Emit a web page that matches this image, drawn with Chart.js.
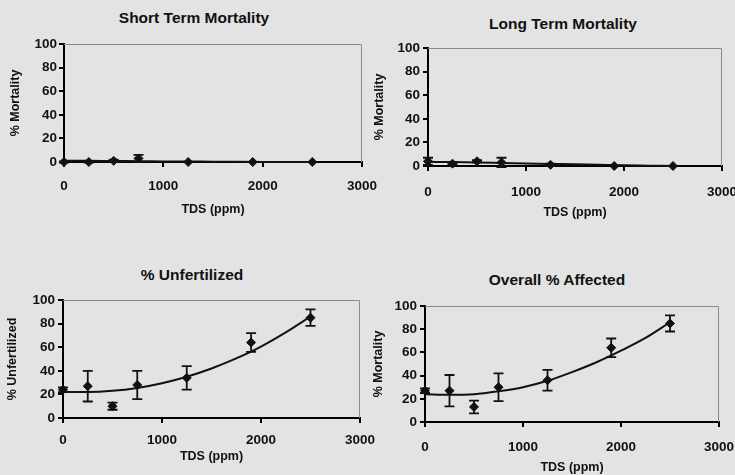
<!DOCTYPE html>
<html>
<head>
<meta charset="utf-8">
<script src="https://cdn.jsdelivr.net/npm/chart.js@4.4.0/dist/chart.umd.min.js"></script>
<style>
  body { margin: 0; background: #e3e3e3; width: 735px; height: 475px; overflow: hidden; position: relative; font-family: "Liberation Sans", Arial, sans-serif; }
  .box { position: absolute; }
  .ttl { position: absolute; font-weight: bold; font-size: 15.5px; transform: translateX(-50%); white-space: nowrap; color: #111; }
</style>
</head>
<body>
<div class="ttl" style="left:194px;top:9px">Short Term Mortality</div>
<div class="ttl" style="left:563px;top:15px">Long Term Mortality</div>
<div class="ttl" style="left:192px;top:266px">% Unfertilized</div>
<div class="ttl" style="left:557px;top:271px">Overall % Affected</div>

<div class="box" style="left:0;top:0;width:390px;height:232px"><canvas id="c1"></canvas></div>
<div class="box" style="left:368px;top:0;width:367px;height:235px"><canvas id="c2"></canvas></div>
<div class="box" style="left:0;top:240px;width:390px;height:235px"><canvas id="c3"></canvas></div>
<div class="box" style="left:368px;top:240px;width:367px;height:235px"><canvas id="c4"></canvas></div>

<script>
// TDS levels (ppm) used for the points
const tds = [0, 250, 500, 750, 1250, 1900, 2500];

const shortMort = [0, 0, 1, 3, 0, 0, 0];
const shortErr = [0.5, 0.5, 1, 3, 0, 0, 0];
const longMort = [4, 2, 4, 3, 1, 0, 0];
const longErr = [3, 1, 1, 4, 1, 0, 0];
const unfert = [24, 27, 10, 28, 34, 64, 85];
const unfertErr = [2, 13, 3, 12, 10, 8, 7];
const affected = [27, 27, 13, 30, 36, 64, 85];
const affectedErr = [2, 13.5, 5.5, 12, 9, 8, 7];

// trend lines
const trendX = [0, 250, 500, 750, 1000, 1250, 1500, 1750, 2000, 2250, 2500];
const shortTrend = [1, 1, 0.8, 0.7, 0.5, 0.4, 0.3, 0.2, 0.1, 0, 0];
const longTrend = [3.5, 3.3, 3, 2.6, 2.2, 1.8, 1.4, 1, 0.6, 0.3, 0];
const unfertTrend = [22, 22, 23, 25.5, 29.5, 35, 42, 50.5, 60.5, 72.5, 86];
const affectedTrend = [24, 23.5, 24, 26.5, 30, 35.5, 43, 51.5, 61.5, 72.5, 86];

const xTicks = [0, 1000, 2000, 3000];
const yTicks = [0, 20, 40, 60, 80, 100];

const ink = '#111';

const errorBars = {
  id: 'errorBars',
  afterDatasetsDraw(chart) {
    const ds = chart.data.datasets[0];
    if (!ds.errors) return;
    const { ctx, scales: { x, y } } = chart;
    ctx.save();
    ctx.strokeStyle = ink;
    ctx.lineWidth = 1.8;
    ds.data.forEach((p, i) => {
      const e = ds.errors[i];
      if (!e) return;
      const px = x.getPixelForValue(p.x);
      const top = y.getPixelForValue(p.y + e);
      const bot = y.getPixelForValue(p.y - e);
      ctx.beginPath();
      ctx.moveTo(px, top); ctx.lineTo(px, bot);
      ctx.moveTo(px - 5, top); ctx.lineTo(px + 5, top);
      ctx.moveTo(px - 5, bot); ctx.lineTo(px + 5, bot);
      ctx.stroke();
    });
    ctx.restore();
  }
};

// thin grey border on top and right of the plot area
const frame = {
  id: 'frame',
  beforeDatasetsDraw(chart) {
    const { ctx, chartArea: a } = chart;
    ctx.save();
    ctx.strokeStyle = '#8c8c8c';
    ctx.lineWidth = 1;
    ctx.beginPath();
    ctx.moveTo(a.left, a.top + 0.5);
    ctx.lineTo(a.right - 0.5, a.top + 0.5);
    ctx.lineTo(a.right - 0.5, a.bottom);
    ctx.stroke();
    ctx.restore();
  }
};

const tickFont = { family: 'Liberation Sans', size: 13.5, weight: 'bold' };
const axisFont = { family: 'Liberation Sans', size: 12.5, weight: 'bold' };

function makeChart(id, vals, errs, trend, yTitle, g) {
  const pts = tds.map((t, i) => ({ x: t, y: vals[i] }));
  const line = trendX.map((t, i) => ({ x: t, y: trend[i] }));
  return new Chart(document.getElementById(id), {
    type: 'scatter',
    data: {
      datasets: [
        {
          data: pts,
          errors: errs,
          pointStyle: 'rectRot',
          pointRadius: 4.5,
          backgroundColor: ink,
          borderColor: ink,
          clip: false,
        },
        {
          data: line,
          showLine: true,
          pointRadius: 0,
          borderColor: ink,
          borderWidth: 2,
          cubicInterpolationMode: 'monotone',
          clip: false,
        },
      ],
    },
    options: {
      responsive: true,
      maintainAspectRatio: false,
      animation: false,
      layout: { padding: g.pad },
      plugins: { legend: { display: false }, tooltip: { enabled: false } },
      scales: {
        x: {
          type: 'linear',
          min: 0,
          max: 3000,
          afterBuildTicks: (s) => { s.ticks = xTicks.map((v) => ({ value: v })); },
          afterFit: (s) => { s.height = g.xH; s.paddingLeft = 0; s.paddingRight = 0; },
          border: { color: '#000', width: 2 },
          grid: { drawOnChartArea: false, drawTicks: true, tickLength: 5, color: '#000', lineWidth: 2 },
          ticks: { color: ink, padding: g.xp, maxRotation: 0, font: tickFont, callback: (v) => String(v) },
          title: { display: true, text: 'TDS (ppm)', color: ink, padding: 0, font: axisFont },
        },
        y: {
          min: 0,
          max: 100,
          afterBuildTicks: (s) => { s.ticks = yTicks.map((v) => ({ value: v })); },
          afterFit: (s) => { s.width = g.yW; s.paddingTop = 0; s.paddingBottom = 0; },
          border: { color: '#000', width: 2 },
          grid: { drawOnChartArea: false, drawTicks: true, tickLength: 5, color: '#000', lineWidth: 2 },
          ticks: { color: ink, padding: g.yp, font: tickFont, callback: (v) => String(v) },
          title: { display: true, text: yTitle, color: ink, padding: 0, font: axisFont },
        },
      },
    },
    plugins: [frame, errorBars],
  });
}

makeChart('c1', shortMort, shortErr, shortTrend, '% Mortality',
  { pad: { left: 8, top: 44, right: 28, bottom: 15 }, yW: 56, xH: 55, xp: 11, yp: 2 });
makeChart('c2', longMort, longErr, longTrend, '% Mortality',
  { pad: { left: 4, top: 48, right: 13, bottom: 15 }, yW: 56, xH: 54, xp: 13, yp: 3 });
makeChart('c3', unfert, unfertErr, unfertTrend, '% Unfertilized',
  { pad: { left: 5, top: 60, right: 30, bottom: 11 }, yW: 58, xH: 46, xp: 9, yp: 3 });
makeChart('c4', affected, affectedErr, affectedTrend, '% Mortality',
  { pad: { left: 3, top: 66, right: 16, bottom: 0 }, yW: 54, xH: 53, xp: 12, yp: 3 });
</script>
</body>
</html>
